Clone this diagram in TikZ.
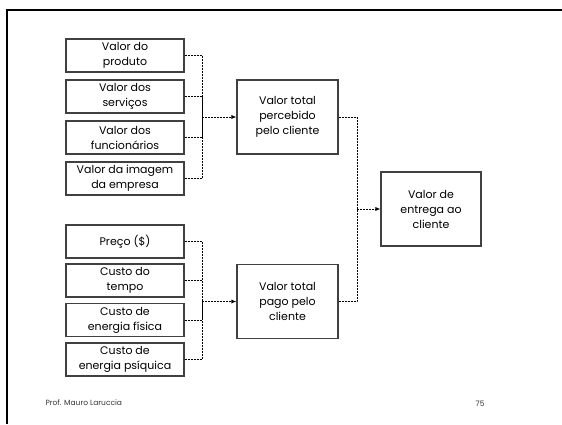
\documentclass[tikz,border=0pt]{standalone}
\usepackage{fontspec}
\setmainfont{Poppins}
\usetikzlibrary{arrows.meta}

\tikzset{
  item/.style={draw=black!75, line width=1.1pt, minimum width=118pt, minimum height=33pt,
    align=center, inner sep=1pt, font=\fontsize{11}{15}\selectfont},
  total/.style={item, minimum width=101pt, minimum height=74pt},
  conn/.style={dashed, dash pattern=on 2pt off 1pt, line width=0.7pt},
  tip/.style={conn, -{Latex[length=5pt,width=4pt]}}
}

\begin{document}
\begin{tikzpicture}[x=1pt,y=-1pt]
			\useasboundingbox (0,0) rectangle (562,424);
			% moldura do slide
			\draw[line width=2.5pt] (7,424) -- (7,10) -- (562,10);
			% valores
			\node[item] (produto) at (125,55.5) {Valor do\\produto};
			\node[item] (servicos) at (125,96.5) {Valor dos\\serviços};
			\node[item] (func) at (125,137.5) {Valor dos\\funcionários};
			\node[item] (imagem) at (125,178.5) {Valor da imagem\\da empresa};
			% custos
			\node[item] (preco) at (125,241.5) {Preço (\$)};
			\node[item] (tempo) at (125,280.5) {Custo do\\tempo};
			\node[item] (fisica) at (125,320) {Custo de\\energia física};
			\node[item] (psiq) at (125,359.5) {Custo de\\energia psíquica};
			% totais
			\node[total] (percebido) at (287.5,117) {Valor total\\percebido\\pelo cliente};
			\node[total] (pago) at (287.5,301.5) {Valor total\\pago pelo\\cliente};
			\node[total, minimum width=100pt] (entrega) at (431,209) {Valor de\\entrega ao\\cliente};
			\coordinate (busv) at (202,117);
			\coordinate (busc) at (202,301.5);
			\coordinate (bust) at (357,209);
			\foreach \n in {produto,servicos,func,imagem}
				\draw[conn] (\n.east) -| (busv);
			\foreach \n in {preco,tempo,fisica,psiq}
				\draw[conn] (\n.east) -| (busc);
			\draw[tip] (busv) -- (percebido.west);
			\draw[tip] (busc) -- (pago.west);
			\draw[conn] (percebido.east) -| (bust);
			\draw[conn] (pago.east) -| (bust);
			\draw[tip] (bust) -- (entrega.west);
			% rodape
			\node[anchor=west, font=\fontsize{7.5}{8}\selectfont, text=black!80] (autor) at (42,403) {Prof. Mauro Laruccia};
			\node[anchor=east, font=\fontsize{7.5}{8}\selectfont, text=black!80] (pagina) at (488,404) {75};
		\end{tikzpicture}
\end{document}
